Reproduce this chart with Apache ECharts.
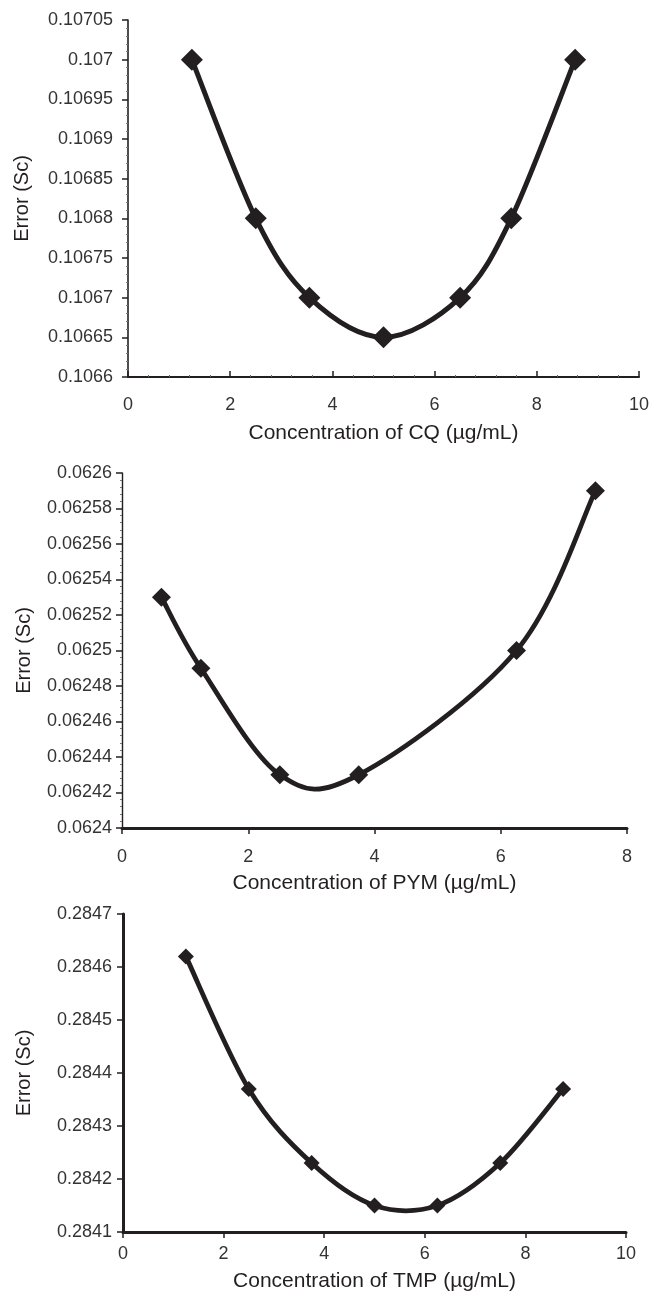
<!DOCTYPE html>
<html>
<head>
<meta charset="utf-8">
<script src="https://cdn.jsdelivr.net/npm/echarts@6/dist/echarts.min.js"></script>
<style>
html,body{margin:0;padding:0;background:#fff;}
#main{width:652px;height:1298px;}
</style>
</head>
<body>
<div id="main"></div>
<script>
// Chart 1: CQ
var cqX = [1.25, 2.5, 3.55, 5, 6.5, 7.5, 8.75];
var cqY = [0.107, 0.1068, 0.1067, 0.10665, 0.1067, 0.1068, 0.107];
// Chart 2: PYM
var pymX = [0.625, 1.25, 2.5, 3.75, 6.25, 7.5];
var pymY = [0.06253, 0.06249, 0.06243, 0.06243, 0.0625, 0.06259];
// Chart 3: TMP
var tmpX = [1.25, 2.5, 3.75, 5, 6.25, 7.5, 8.75];
var tmpY = [0.28462, 0.28437, 0.28423, 0.28415, 0.28415, 0.28423, 0.28437];

var xNames = ['Concentration of CQ (\u00b5g/mL)', 'Concentration of PYM (\u00b5g/mL)', 'Concentration of TMP (\u00b5g/mL)'];
var yName = 'Error (Sc)';
var yMin = [0.1066, 0.0624, 0.2841];
var yMax = [0.10705, 0.0626, 0.2847];
var yStep = [0.00005, 0.00002, 0.0001];
var xMax = [10, 8, 10];
var xStep = [2, 2, 2];

var INK = '#231f20';
var FONT = 'Liberation Sans, Arial, Helvetica, sans-serif';

function pairs(xs, ys){ return xs.map(function(x,i){ return [x, ys[i]]; }); }
function fmtY(v){ return String(parseFloat(v.toFixed(6))); }

// Excel-style (Catmull-Rom) smoothed line through the points, drawn in axis coordinates
function splineItem(xs, ys, lw) {
  return function(params, api) {
    var i = params.dataIndex;
    if (i >= xs.length - 1) return null;
    var P = function(k){ k = Math.max(0, Math.min(xs.length - 1, k)); return api.coord([xs[k], ys[k]]); };
    var p0 = P(i - 1), p1 = P(i), p2 = P(i + 1), p3 = P(i + 2);
    var c1 = [p1[0] + (p2[0] - p0[0]) / 6, p1[1] + (p2[1] - p0[1]) / 6];
    var c2 = [p2[0] - (p3[0] - p1[0]) / 6, p2[1] - (p3[1] - p1[1]) / 6];
    return {
      type:'bezierCurve',
      shape:{x1:p1[0], y1:p1[1], x2:p2[0], y2:p2[1], cpx1:c1[0], cpy1:c1[1], cpx2:c2[0], cpy2:c2[1]},
      style:{stroke:INK, lineWidth:lw, fill:'none', lineCap:'round'}
    };
  };
}

var grids = [
  {left:128, top:20, width:515, height:357},
  {left:122, top:473, width:505, height:355},
  {left:123, top:914, width:503, height:318}
];
var axisW = [[1.6, 2], [1.4, 3], [3, 3]];
var xTickInside = [true, false, false];
var xLabelMargin = [19, 20, 13];
var xNameGap = [46, 45, 39];
var yNameGap = [96, 88, 89];
var yLabelMargin = [15, 10, 11];
var symSize = [22, 19, 16];
var lineW = [5, 4.8, 4.8];
var xsAll = [cqX, pymX, tmpX];
var ysAll = [cqY, pymY, tmpY];

var xAxes = [], yAxes = [], series = [];
for (var i = 0; i < 3; i++) {
  xAxes.push({
    type:'value', gridIndex:i, min:0, max:xMax[i], interval:xStep[i],
    name:xNames[i], nameLocation:'middle', nameGap:xNameGap[i],
    nameTextStyle:{fontFamily:FONT, fontSize:21, color:INK},
    axisLine:{show:true, onZero:false, lineStyle:{color:INK, width:axisW[i][1]}},
    axisTick:{show:true, inside:xTickInside[i], length:6, lineStyle:{color:INK, width:1.5}},
    minorTick:{show:i===0, splitNumber:5, length:2, lineStyle:{color:'#666', width:1}},
    axisLabel:{fontFamily:FONT, fontSize:18, color:'#333', margin:xLabelMargin[i]},
    splitLine:{show:false}
  });
  yAxes.push({
    type:'value', gridIndex:i, min:yMin[i], max:yMax[i], interval:yStep[i],
    name:yName, nameLocation:'middle', nameGap:yNameGap[i], nameRotate:90,
    nameTextStyle:{fontFamily:FONT, fontSize:20, color:INK},
    axisLine:{show:true, onZero:false, lineStyle:{color:INK, width:axisW[i][0]}},
    axisTick:{show:true, inside:false, length:6, lineStyle:{color:INK, width:1.5}},
    minorTick:{show:i!==2, splitNumber:5, length:2, lineStyle:{color:'#777', width:1}},
    axisLabel:{fontFamily:FONT, fontSize:18, color:'#333', margin:yLabelMargin[i], formatter:fmtY},
    splitLine:{show:false}
  });
  series.push({
    type:'custom', xAxisIndex:i, yAxisIndex:i, coordinateSystem:'cartesian2d',
    data:pairs(xsAll[i], ysAll[i]), renderItem:splineItem(xsAll[i], ysAll[i], lineW[i]),
    clip:false, silent:true, z:2
  });
  series.push({
    type:'scatter', xAxisIndex:i, yAxisIndex:i, data:pairs(xsAll[i], ysAll[i]),
    symbol:'diamond', symbolSize:symSize[i],
    itemStyle:{color:INK, opacity:1}, z:3
  });
}

var chart = echarts.init(document.getElementById('main'), null, {renderer:'canvas'});
chart.setOption({
  backgroundColor:'#fff',
  animation:false,
  grid:grids,
  xAxis:xAxes,
  yAxis:yAxes,
  series:series
});
</script>
</body>
</html>
